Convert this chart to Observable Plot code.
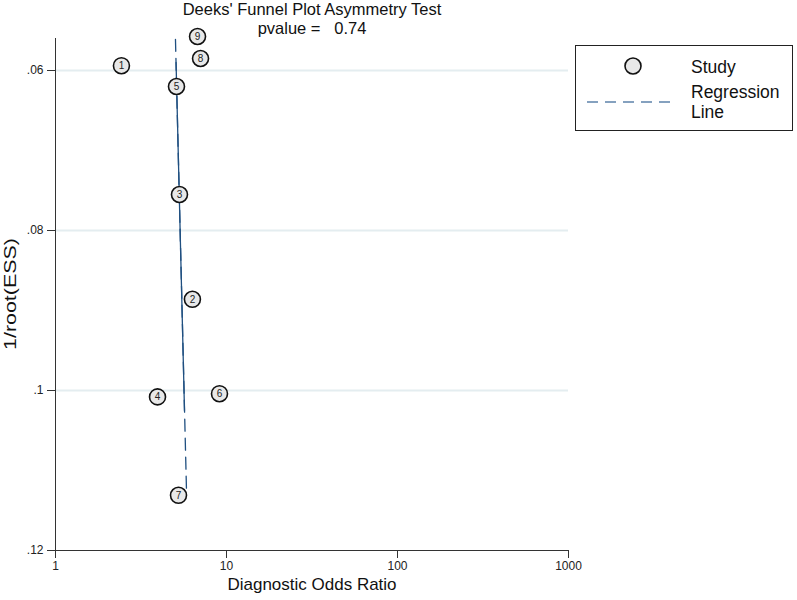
<!DOCTYPE html>
<html>
<head>
<meta charset="utf-8">
<script src="https://cdn.jsdelivr.net/npm/d3@7"></script>
<script src="https://cdn.jsdelivr.net/npm/@observablehq/plot@0.6"></script>
<style>
  html, body { margin: 0; padding: 0; background: #fff; }
  #chart { position: relative; width: 797px; height: 600px; }
  svg { font-family: "Liberation Sans", Arial, sans-serif; }
</style>
</head>
<body>
<div id="chart"></div>
<script>
// Study data: diagnostic odds ratio (x) and 1/root(ESS) (y)
const studyIds = [1, 2, 3, 4, 5, 6, 7, 8, 9];
const studyDOR = [2.43, 6.32, 5.31, 3.95, 5.10, 9.10, 5.24, 7.05, 6.77];
const studyInvRootESS = [0.0594, 0.0886, 0.0755, 0.1008, 0.0620, 0.1004, 0.1131, 0.0585, 0.05575];

// Regression line endpoints (dashed) and its solid middle part
const regDOR = [5.03, 5.84];
const regInvRootESS = [0.0561, 0.1128];
const regSolidDOR = [5.07, 5.68];
const regSolidInvRootESS = [0.0590, 0.1025];

const xTicks = [1, 10, 100, 1000];
const yTicks = [0.06, 0.08, 0.1, 0.12];
const yTickLabels = [".06", ".08", ".1", ".12"];
const gridY = [0.06, 0.08, 0.1];

const titleText = "Deeks' Funnel Plot Asymmetry Test";
const pvalueText = "pvalue =\u00a0\u00a0 0.74";
const xLabel = "Diagnostic Odds Ratio";
const yLabel = "1/root(ESS)";
const legendLabels = ["Study", "Regression", "Line"];

const studies = studyIds.map((id, i) => ({id, x: studyDOR[i], y: studyInvRootESS[i]}));
const reg = regDOR.map((x, i) => ({x, y: regInvRootESS[i]}));
const regSolid = regSolidDOR.map((x, i) => ({x, y: regSolidInvRootESS[i]}));

const lineColor = "#1f4f80";

const plot = Plot.plot({
  width: 797,
  height: 600,
  marginTop: 38,
  marginLeft: 55,
  marginRight: 229,
  marginBottom: 50,
  style: {fontFamily: "'Liberation Sans', Arial, sans-serif", background: "#fff"},
  x: {type: "log", domain: [1, 1000]},
  y: {domain: [0.056, 0.12], reverse: true},
  marks: [
    Plot.ruleY(gridY, {stroke: "#e4edf0", strokeWidth: 2}),
    Plot.ruleX([1], {stroke: "#333", strokeWidth: 1}),
    Plot.ruleY([0.12], {stroke: "#333", strokeWidth: 1}),
    Plot.axisX({ticks: xTicks, tickSize: 8, tickPadding: 3, tickFormat: d => String(d), fontSize: 12, label: null, stroke: "#333", color: "#222"}),
    Plot.axisY({ticks: yTicks, tickSize: 8, tickPadding: 4, tickFormat: d => yTickLabels[yTicks.indexOf(d)], fontSize: 12, label: null, stroke: "#333", color: "#222"}),
    Plot.line(reg, {x: "x", y: "y", stroke: lineColor, strokeWidth: 1.3, strokeDasharray: "12,7"}),
    Plot.line(regSolid, {x: "x", y: "y", stroke: lineColor, strokeWidth: 1.3}),
    Plot.dot(studies, {x: "x", y: "y", r: 8, fill: "#e8e8e8", stroke: "#111", strokeWidth: 1.6}),
    Plot.text(studies, {x: "x", y: "y", text: d => String(d.id), fontSize: 10, fill: "#222"}),
    Plot.text([titleText + "\n" + pvalueText], {frameAnchor: "top", lineAnchor: "bottom", dy: -5, fontSize: 16.5, lineHeight: 1.12, fill: "#111"}),
    Plot.text([xLabel], {frameAnchor: "bottom", lineAnchor: "bottom", dy: 39, fontSize: 17, fill: "#111"})
  ]
});

const svg = d3.select(plot);

// Y-axis title (rotated), stretched along its direction as in the reference
svg.append("text")
  .attr("transform", "translate(12,294) rotate(-90)")
  .attr("text-anchor", "middle")
  .attr("dominant-baseline", "middle")
  .attr("font-family", "'Liberation Sans', Arial, sans-serif")
  .attr("font-size", 17)
  .attr("fill", "#111")
  .attr("textLength", 112)
  .attr("lengthAdjust", "spacingAndGlyphs")
  .text(yLabel);

// Legend drawn into the same SVG
const lg = svg.append("g").attr("font-family", "'Liberation Sans', Arial, sans-serif").attr("font-size", 17.5).attr("fill", "#111").attr("text-anchor", "start");
lg.append("rect").attr("x", 575.5).attr("y", 45.5).attr("width", 217).attr("height", 85).attr("fill", "#fff").attr("stroke", "#222").attr("stroke-width", 1);
lg.append("circle").attr("cx", 633).attr("cy", 66).attr("r", 8).attr("fill", "#e8e8e8").attr("stroke", "#111").attr("stroke-width", 1.6);
lg.append("text").attr("x", 691).attr("y", 73).text(legendLabels[0]);
lg.append("line").attr("x1", 587).attr("x2", 677).attr("y1", 102).attr("y2", 102).attr("stroke", "#5d82ab").attr("stroke-width", 1.5).attr("stroke-dasharray", "11,7");
lg.append("text").attr("x", 691).attr("y", 98).text(legendLabels[1]);
lg.append("text").attr("x", 691).attr("y", 118).text(legendLabels[2]);

document.getElementById("chart").appendChild(plot);
</script>
</body>
</html>
